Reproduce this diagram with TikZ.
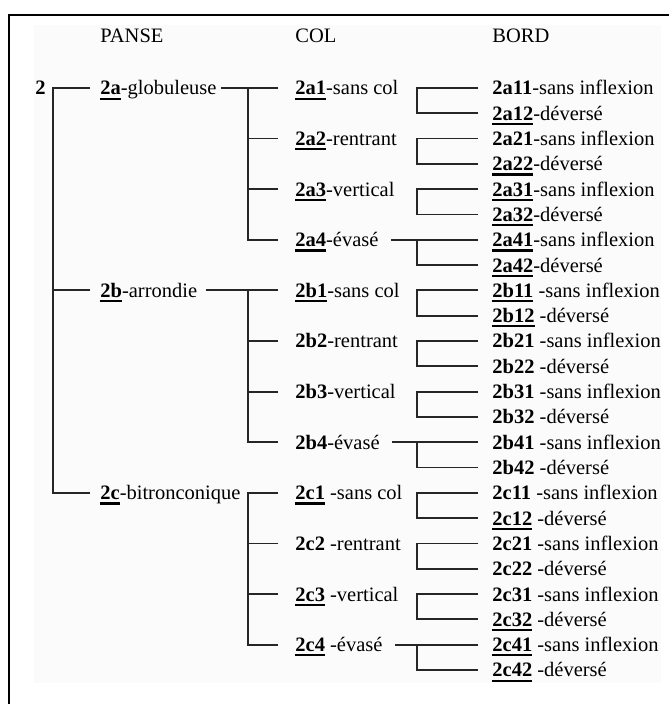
\documentclass[tikz,border=0pt]{standalone}
\usepackage{fontspec}
\setmainfont{Liberation Serif}
\usetikzlibrary{calc}

% Underlined bold code
\newcommand{\ulcode}[1]{\setbox0\hbox{\textbf{#1}}\rlap{\rule[-2.4pt]{\wd0}{1.1pt}}\box0}
\newcommand{\code}[2]{\ifnum#1=1 \ulcode{#2}\else\textbf{#2}\fi}

\begin{document}
\begin{tikzpicture}[x=0.5pt, y=-0.5pt,
    txt/.style={anchor=west, inner sep=0pt, text height=7pt, text depth=0pt,
        font=\fontsize{10.25}{12}\selectfont},
    branch/.style={draw=black!85, line width=0.9pt}]
    % Define colours
    \definecolor{frameColour}{HTML}{000000}
    \definecolor{paperColour}{HTML}{FBFBFB}

    % Define row spacing
    \def\rowTop{88}
    \def\rowStep{25.3}

    % Page and frame
    \useasboundingbox (0,0) rectangle (669,704);
    \fill[paperColour] (34,25) rectangle (661,683);
    \draw[frameColour, line width=1.2pt] (9,704) -- (9,15) -- (669,15);

    % Column headers
    \node[txt] (hPanse) at (100,36) {PANSE};
    \node[txt] (hCol) at (295,36) {COL};
    \node[txt] (hBord) at (492,36) {BORD};

    % Root
    \node[txt] (root) at (35,\rowTop) {\textbf{2}};

    % Panse level
    \foreach \n/\t [count=\i from 0] in {a/-globuleuse, b/-arrondie, c/-bitronconique}
        \node[txt] (p\n) at (100,{\rowTop+8*\rowStep*\i}) {\code{1}{2\n}\t};

    % Col level
    \foreach \n/\u/\t [count=\i from 0] in {a1/1/-sans col, a2/1/-rentrant, a3/1/-vertical, a4/1/-évasé,
            b1/1/-sans col, b2/0/-rentrant, b3/0/-vertical, b4/0/-évasé,
            c1/1/~-sans col, c2/0/~-rentrant, c3/1/~-vertical, c4/1/~-évasé}
        \node[txt] (c\n) at (295,{\rowTop+2*\rowStep*\i}) {\code{\u}{2\n}\t};

    % Bord level
    \foreach \n/\u/\t [count=\i from 0] in {a11/0/-sans inflexion, a12/1/-déversé,
            a21/0/-sans inflexion, a22/1/-déversé, a31/1/-sans inflexion, a32/1/-déversé,
            a41/1/-sans inflexion, a42/1/-déversé,
            b11/1/~-sans inflexion, b12/1/~-déversé, b21/0/~-sans inflexion, b22/0/~-déversé,
            b31/0/~-sans inflexion, b32/0/~-déversé, b41/0/~-sans inflexion, b42/0/~-déversé,
            c11/0/~-sans inflexion, c12/1/~-déversé, c21/0/~-sans inflexion, c22/0/~-déversé,
            c31/0/~-sans inflexion, c32/1/~-déversé, c41/1/~-sans inflexion, c42/1/~-déversé}
        \node[txt] (b\n) at (492,{\rowTop+\rowStep*\i}) {\code{\u}{2\n}\t};

    % Draw panse branches
    \draw[branch] ([xshift=-5pt]pa.west) -- ++(-18.5pt,0) |- ([xshift=-5pt]pc.west);
    \draw[branch] ([xshift=-5pt]pb.west) -- ++(-18.5pt,0);

    % Draw col branches
    \foreach \p in {a,b,c} {
        \draw[branch] ([xshift=-8.5pt]c\p1.west) -- ++(-15pt,0) |- ([xshift=-8.5pt]c\p4.west);
        \foreach \k in {2,3}
            \draw[branch] ([xshift=-8.5pt]c\p\k.west) -- ++(-15pt,0);
    }
    \draw[branch] ([xshift=2pt]pa.east) -- ([xshift=-8.5pt]ca1.west);
    \draw[branch] ([xshift=4pt]pb.east) -- ([xshift=-8.5pt]cb1.west);

    % Draw bord brackets
    \foreach \p in {a,b,c} {
        \foreach \k in {1,...,4}
            \draw[branch] ([xshift=-7pt]b\p\k1.west) -- ++(-30.5pt,0) |- ([xshift=-7pt]b\p\k2.west);
        \draw[branch] ([xshift=6pt]c\p4.east) -- ([xshift=-7pt]b\p41.west);
    }
\end{tikzpicture}
\end{document}
